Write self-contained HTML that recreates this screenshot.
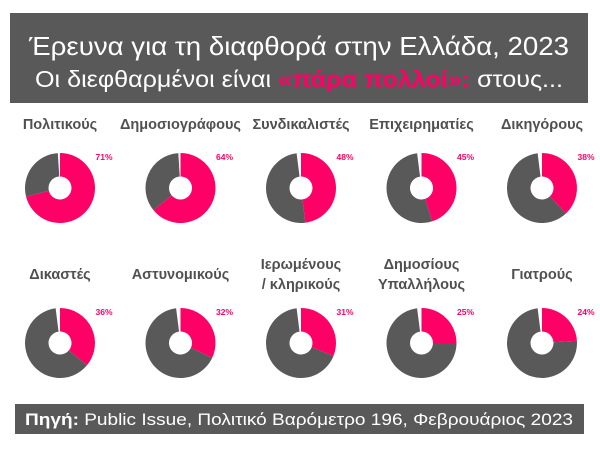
<!DOCTYPE html>
<html><head><meta charset="utf-8"><style>
body{margin:0;background:#fff;width:600px;height:450px;overflow:hidden;font-family:"Liberation Sans","DejaVu Sans",sans-serif;}
</style></head><body>
<svg width="600" height="450" xmlns="http://www.w3.org/2000/svg" id="chart">
<rect x="10" y="13" width="578" height="90" fill="#595959"/>
<text x="299" y="55" text-anchor="middle" font-size="26" fill="#fff" textLength="540" lengthAdjust="spacingAndGlyphs">Έρευνα για τη διαφθορά στην Ελλάδα, 2023</text>
<text x="299" y="87" text-anchor="middle" font-size="23" fill="#fff" textLength="528" lengthAdjust="spacingAndGlyphs">Οι διεφθαρμένοι είναι <tspan fill="#ff0066" font-weight="bold">«πάρα πολλοί»:</tspan> στους...</text>
<g id="donuts"></g>
<rect x="15" y="404" width="569" height="30" fill="#595959"/>
<text x="299" y="425" text-anchor="middle" font-size="17" fill="#fff" textLength="548" lengthAdjust="spacingAndGlyphs"><tspan font-weight="bold">Πηγή:</tspan> Public Issue, Πολιτικό Βαρόμετρο 196, Φεβρουάριος 2023</text>
</svg>
<script>
const categories=[["Πολιτικούς"],["Δημοσιογράφους"],["Συνδικαλιστές"],["Επιχειρηματίες"],["Δικηγόρους"],["Δικαστές"],["Αστυνομικούς"],["Ιερωμένους","/ κληρικούς"],["Δημοσίους","Υπαλλήλους"],["Γιατρούς"]];
const pinkValues=[71,64,48,45,38,36,32,31,25,24];
const grayValues=[28,35,50,53,60,62,66,67,73,74];
const NS="http://www.w3.org/2000/svg";
const g=document.getElementById("donuts");
const R=35,r0=11.5;
function pt(cx,cy,rad,frac){const a=frac*2*Math.PI-Math.PI/2;return [cx+rad*Math.cos(a),cy+rad*Math.sin(a)];}
function arc(cx,cy,f0,f1){
  const [x0,y0]=pt(cx,cy,R,f0),[x1,y1]=pt(cx,cy,R,f1),[x2,y2]=pt(cx,cy,r0,f1),[x3,y3]=pt(cx,cy,r0,f0);
  const lg=(f1-f0)>0.5?1:0;
  return `M${x0},${y0}A${R},${R} 0 ${lg} 1 ${x1},${y1}L${x2},${y2}A${r0},${r0} 0 ${lg} 0 ${x3},${y3}Z`;
}
function mk(tag,attrs){const e=document.createElementNS(NS,tag);for(const k in attrs)e.setAttribute(k,attrs[k]);g.appendChild(e);return e;}
categories.forEach((lab,i)=>{
  const col=i%5,row=Math.floor(i/5);
  const cx=60+col*120.5,cy=row?343:188;
  const ly=row?279:129;
  const t=mk("text",{x:cx,y:lab.length>1?ly-10:ly,"text-anchor":"middle","font-size":"14.5","font-weight":"bold",fill:"#505050"});
  
  
  lab.forEach((s,j)=>{const ts=document.createElementNS(NS,"tspan");ts.setAttribute("x",cx);ts.setAttribute("dy",j?20:0);ts.textContent=s;t.appendChild(ts);});
  const p=pinkValues[i]/100,gr=grayValues[i]/100;
  const a=mk("path",{d:arc(cx,cy,0,p),fill:"#ff0066"});
  
  
  const b=mk("path",{d:arc(cx,cy,p,p+gr),fill:"#595959"});
  
  
  const v=mk("text",{x:cx+44,y:cy-28,"text-anchor":"middle","font-size":"8.5","font-weight":"bold",fill:"#ff0066"});
  v.textContent=pinkValues[i]+"%";
  
  
});
</script>
</body></html>
